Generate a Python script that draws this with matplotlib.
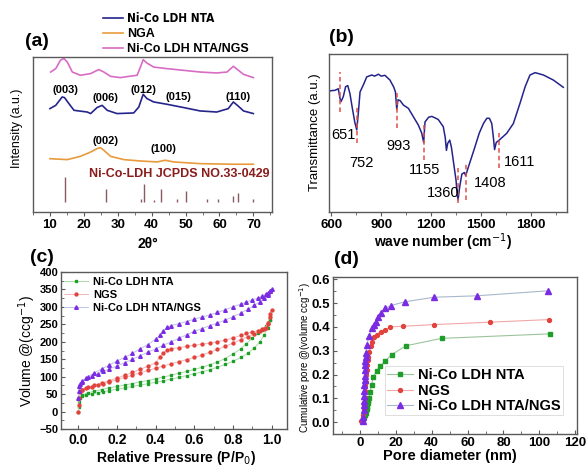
import matplotlib
matplotlib.use("Agg")
import matplotlib.pyplot as plt
from matplotlib.ticker import MultipleLocator, AutoMinorLocator, FormatStrFormatter

plt.rcParams['font.family'] = ['Liberation Sans', 'DejaVu Sans']

# ---------------- data: (a) XRD ----------------
xrd_pink_x = [10.2, 11.7, 13.1, 14.1, 15.1, 16.6, 19.0, 22.0, 24.4, 25.9, 27.9, 30.8, 33.2, 35.7,
              36.7, 37.5, 38.6, 40.6, 44.5, 49.4, 54.3, 59.2, 62.2, 64.1, 65.3, 67.1, 70.0]
xrd_pink_y = [90.3, 92.5, 97.9, 99.0, 96.8, 90.3, 88.2, 89.3, 91.9, 90.3, 87.5, 86.7, 87.5, 88.2,
              93.5, 98.3, 96.1, 93.5, 92.5, 91.4, 90.3, 89.7, 90.3, 94.0, 91.9, 88.8, 86.7]
xrd_blue_x = [10.0, 11.7, 13.6, 14.3, 15.6, 17.1, 21.0, 22.0, 23.9, 25.4, 26.9, 29.8, 34.7, 36.2,
              37.5, 38.6, 40.6, 44.5, 49.4, 54.3, 59.2, 62.6, 64.1, 65.3, 67.1, 70.0]
xrd_blue_y = [66.7, 68.8, 74.2, 73.8, 69.9, 65.6, 64.5, 63.5, 67.4, 68.8, 65.6, 63.5, 63.9, 67.7,
              75.9, 73.2, 71.0, 69.5, 67.4, 65.2, 64.5, 66.7, 71.0, 68.8, 65.2, 63.5]
xrd_orange_x = [10.0, 15.1, 19.0, 22.0, 23.9, 24.9, 25.9, 27.9, 31.8, 36.7, 41.6, 44.0, 46.5,
                54.3, 64.1, 70.0]
xrd_orange_y = [34.4, 33.8, 35.9, 38.7, 40.9, 41.5, 39.8, 35.9, 33.8, 32.9, 32.3, 33.4, 32.3,
                31.2, 30.8, 30.8]
jcpds_pos = [14.3, 26.4, 37.0, 37.8, 40.7, 42.8, 47.5, 50.0, 56.4, 59.7, 64.0, 65.6, 69.8]
jcpds_top = [22.6, 15.1, 8.5, 18.3, 7.8, 15.1, 8.5, 13.5, 8.5, 8.5, 10.6, 12.3, 8.3]
jcpds_base = 6.5
xrd_peak_labels = ['(003)', '(006)', '(012)', '(015)', '(110)', '(002)', '(100)']
xrd_peak_x = [14.6, 26.4, 37.7, 48.0, 65.6, 26.4, 43.6]
xrd_peak_y = [79.0, 73.8, 79.0, 74.2, 74.2, 45.6, 40.9]

# ---------------- data: (b) FTIR ----------------
ftir_w = [585, 600, 621, 641, 651, 657, 671, 685, 698, 711, 725, 740, 752, 761, 772, 792, 812,
          842, 860, 882, 900, 922, 952, 975, 985, 993, 1000, 1013, 1033, 1063, 1093, 1123, 1143,
          1155, 1163, 1185, 1204, 1225, 1243, 1273, 1285, 1292, 1300, 1312, 1322, 1338, 1350,
          1356, 1362, 1372, 1385, 1400, 1408, 1425, 1460, 1490, 1515, 1535, 1551, 1565, 1575,
          1582, 1592, 1611, 1655, 1695, 1735, 1766, 1795, 1826, 1876, 1936, 1996]
ftir_t = [76.5, 76.8, 77.0, 78.0, 72.0, 69.8, 73.0, 79.3, 80.0, 75.0, 66.0, 57.0, 52.0, 62.0,
          76.0, 80.5, 85.5, 86.7, 86.0, 87.2, 86.0, 86.5, 83.5, 79.0, 76.0, 65.0, 71.0, 70.5,
          67.7, 65.6, 60.3, 55.0, 50.0, 44.0, 57.0, 60.0, 60.5, 59.5, 58.5, 54.0, 47.0, 39.0,
          43.5, 45.5, 41.0, 29.0, 20.0, 12.0, 7.6, 16.0, 24.0, 25.0, 23.0, 28.7, 40.0, 50.0,
          56.0, 59.3, 59.3, 56.0, 47.0, 39.5, 44.0, 45.6, 49.8, 56.0, 68.8, 79.3, 86.7, 88.2,
          86.7, 83.5, 78.9]
ftir_marks = [651, 752, 993, 1155, 1360, 1408, 1611]
ftir_mark_lo = [63.3, 43.7, 53.2, 32.9, 5.7, 7.6, 27.8]
ftir_mark_hi = [88.6, 66.5, 75.3, 55.0, 27.8, 31.0, 50.0]
ftir_label_x = [672, 782, 1002, 1163, 1273, 1555, 1735]
ftir_label_y = [48.7, 30.8, 41.8, 26.6, 11.8, 18.2, 31.8]

# ---------------- data: (c) N2 isotherms ----------------
ads_p = [0.0, 0.002, 0.005, 0.01, 0.02, 0.04, 0.07, 0.1, 0.13, 0.16, 0.2, 0.24, 0.28, 0.32,
         0.36, 0.4, 0.44, 0.48, 0.52, 0.56, 0.6, 0.64, 0.68, 0.72, 0.76, 0.8, 0.84, 0.88, 0.91,
         0.94, 0.96, 0.98, 0.99]
nta_ads = [0, 12, 28, 40, 45, 48, 51, 54, 57, 60, 64, 68, 72, 76, 80, 84, 88, 93, 98, 103, 108,
           114, 120, 127, 135, 144, 155, 168, 182, 200, 218, 240, 262]
ngs_ads = [0, 20, 40, 55, 62, 67, 71, 76, 80, 85, 91, 98, 104, 111, 118, 124, 131, 137, 143, 149,
           155, 162, 170, 178, 187, 196, 206, 215, 222, 230, 236, 250, 280]
mix_ads = [40, 60, 72, 80, 88, 95, 101, 108, 115, 122, 131, 140, 150, 160, 170, 180, 190, 200,
           210, 220, 230, 238, 246, 254, 262, 272, 282, 294, 304, 315, 325, 335, 345]
nta_des_p = [0.99, 0.97, 0.95, 0.93, 0.9, 0.87, 0.84, 0.8, 0.76, 0.72, 0.68, 0.64, 0.6, 0.56,
             0.52, 0.48, 0.44, 0.4, 0.36, 0.32, 0.28, 0.24, 0.2, 0.16, 0.12, 0.08, 0.05, 0.02]
nta_des = [262, 245, 235, 225, 210, 195, 180, 165, 152, 142, 134, 127, 121, 115, 110, 104, 99,
           94, 89, 85, 80, 76, 72, 68, 63, 58, 54, 48]
des_p = [1.0, 0.99, 0.98, 0.97, 0.95, 0.93, 0.9, 0.87, 0.84, 0.8, 0.76, 0.72, 0.68, 0.64, 0.6,
         0.56, 0.52, 0.48, 0.46, 0.44, 0.42, 0.4, 0.36, 0.32, 0.28, 0.24, 0.2, 0.16, 0.12, 0.08,
         0.05, 0.02]
ngs_des = [290, 270, 255, 240, 236, 232, 228, 224, 218, 211, 205, 200, 196, 193, 190, 187, 183,
           180, 176, 168, 155, 140, 130, 121, 112, 104, 96, 89, 82, 75, 70, 63]
mix_des = [350, 345, 340, 336, 330, 325, 320, 314, 308, 300, 292, 284, 277, 271, 265, 258, 252,
           246, 242, 232, 218, 208, 192, 180, 167, 155, 145, 133, 122, 110, 100, 85]

# ---------------- data: (d) pore volume ----------------
nta_d = [1.8, 2.5, 3.0, 3.5, 3.8, 4.0, 4.3, 4.6, 5.2, 5.6, 6.5, 7.4, 9.3, 11.2, 14.0, 17.7,
         25.7, 45.6, 105.8]
nta_v = [0.012, 0.02, 0.03, 0.04, 0.055, 0.065, 0.079, 0.09, 0.10, 0.125, 0.155, 0.19, 0.214,
         0.235, 0.256, 0.284, 0.321, 0.352, 0.371]
ngs_d = [0.5, 1.5, 2.0, 2.3, 2.6, 2.8, 3.0, 3.2, 3.5, 3.8, 4.0, 4.3, 4.7, 5.2, 6.0, 6.5, 8.0,
         9.3, 11.6, 14.0, 16.8, 24.2, 41.5, 72.3, 105.2]
ngs_v = [0.005, 0.03, 0.05, 0.07, 0.10, 0.13, 0.15, 0.17, 0.20, 0.22, 0.242, 0.26, 0.275, 0.295,
         0.319, 0.337, 0.358, 0.368, 0.38, 0.387, 0.40, 0.403, 0.41, 0.42, 0.431]
mix_d = [1.5, 1.8, 2.0, 2.1, 2.2, 2.3, 2.4, 2.5, 2.6, 2.7, 2.8, 2.9, 3.0, 3.2, 3.5, 3.7, 5.2,
         6.5, 7.8, 8.9, 10.3, 11.6, 14.0, 17.3, 25.1, 41.5, 65.2, 105.0]
mix_v = [0.005, 0.02, 0.05, 0.07, 0.09, 0.11, 0.13, 0.155, 0.175, 0.195, 0.22, 0.24, 0.255,
         0.275, 0.29, 0.323, 0.361, 0.396, 0.407, 0.421, 0.441, 0.457, 0.478, 0.49, 0.506, 0.525,
         0.531, 0.552]

series_names = ['Ni-Co LDH NTA', 'NGS', 'Ni-Co LDH NTA/NGS']

W, H = 588, 466


def box(l, t, r, b):
    return [l / W, 1 - b / H, (r - l) / W, (b - t) / H]


def fp(x, y):
    return (x / W, 1 - y / H)


def style_axes(ax, size, direction='out', pad=2):
    for s in ax.spines.values():
        s.set_color('#5a5a5a')
        s.set_linewidth(1.0)
    ax.tick_params(direction=direction, length=3, width=0.8, color='#5a5a5a', labelsize=size,
                   pad=pad)
    ax.tick_params(which='minor', direction=direction, length=2, width=0.6, color='#5a5a5a')
    for lab in ax.get_xticklabels() + ax.get_yticklabels():
        lab.set_fontweight('bold')


fig = plt.figure(figsize=(W / 100, H / 100), dpi=100)

navy = '#24248c'
orange = '#e89a3c'
pink = '#d86cc4'
green = '#1e9e28'
red = '#e2423c'
purple = '#7b2be2'

# ---------------- (a) ----------------
axa = fig.add_axes(box(33, 57, 272, 212))
ln_b, = axa.plot(xrd_blue_x, xrd_blue_y, color=navy, lw=1.2)
ln_o, = axa.plot(xrd_orange_x, xrd_orange_y, color=orange, lw=1.2)
ln_p, = axa.plot(xrd_pink_x, xrd_pink_y, color=pink, lw=1.2)
axa.vlines(jcpds_pos, jcpds_base, jcpds_top, colors='#8a5a63', lw=1.0)
for lab, x, y in zip(xrd_peak_labels, xrd_peak_x, xrd_peak_y):
    axa.text(x, y, lab, ha='center', va='center', fontsize=8, fontweight='bold')
axa.text(21.5, 24.8, 'Ni-Co-LDH JCPDS NO.33-0429', ha='left', va='center', fontsize=9,
         fontweight='bold', color='#8b1c1c')
axa.set_xlim(5, 75.5)
axa.set_ylim(0, 100)
axa.set_yticks([])
axa.xaxis.set_major_locator(MultipleLocator(10))
axa.xaxis.set_minor_locator(AutoMinorLocator(2))
style_axes(axa, 9.5)
leg_a = fig.legend([ln_b, ln_o, ln_p], ['Ni-Co LDH NTA', 'NGA', 'Ni-Co LDH NTA/NGS'],
                   loc='upper left', bbox_to_anchor=fp(103, 12), frameon=False,
                   handlelength=1.6, handletextpad=0.3, labelspacing=0.25, borderpad=0,
                   borderaxespad=0, prop={'weight': 'bold', 'size': 9})
first = leg_a.get_texts()[0]
first.set_family(['Liberation Sans Narrow', 'DejaVu Sans'])
first.set_stretch('condensed')
first.set_fontsize(8.5)
fig.text(*fp(37, 41), '(a)', ha='center', va='center', fontsize=14, fontweight='bold')
fig.text(*fp(17, 128), 'Intensity (a.u.)', ha='center', va='center', rotation=90, fontsize=9)
fig.text(*fp(148, 244), '2θ°', ha='center', va='center', fontsize=10, fontweight='bold')

# ---------------- (b) ----------------
axb = fig.add_axes(box(329, 54, 567, 212))
axb.plot(ftir_w, ftir_t, color=navy, lw=1.1)
axb.vlines(ftir_marks, ftir_mark_lo, ftir_mark_hi, colors='#e0504a', linestyles=(0, (3, 2)),
           lw=1.1)
for m, x, y in zip(ftir_marks, ftir_label_x, ftir_label_y):
    axb.text(x, y, str(m), ha='center', va='center', fontsize=10.5)
axb.set_xlim(585, 2018)
axb.set_ylim(0, 100)
axb.set_yticks([])
axb.set_xticks([600, 900, 1200, 1500, 1800])
axb.xaxis.set_minor_locator(AutoMinorLocator(2))
style_axes(axb, 9.5)
fig.text(*fp(341, 37), '(b)', ha='center', va='center', fontsize=14, fontweight='bold')
fig.text(*fp(315, 132), 'Transmittance (a.u.)', ha='center', va='center', rotation=90,
         fontsize=9.5)
fig.text(*fp(443, 242), 'wave number (cm$^{-1}$)', ha='center', va='center', fontsize=10,
         fontweight='bold')

# ---------------- (c) ----------------
axc = fig.add_axes(box(61, 272, 287, 429))
iso = [(ads_p, nta_ads, nta_des_p, nta_des, green, '#a8dca8', 's', 1.9),
       (ads_p, ngs_ads, des_p, ngs_des, red, '#f4b8b8', 'o', 2.1),
       (ads_p, mix_ads, des_p, mix_des, purple, '#bcc4ec', '^', 2.6)]
hc = []
for pa, va, pd, vd, c, lc, mk, ms in iso:
    h, = axc.plot(list(pa) + list(pd), list(va) + list(vd), '-', color=lc, lw=0.7, marker=mk,
                  ms=ms, mfc=c, mec=c)
    hc.append(h)
axc.set_xlim(-0.09, 1.08)
axc.set_ylim(-50, 400)
axc.xaxis.set_major_locator(MultipleLocator(0.2))
axc.xaxis.set_minor_locator(AutoMinorLocator(2))
axc.yaxis.set_major_locator(MultipleLocator(50))
axc.yaxis.set_minor_locator(AutoMinorLocator(2))
axc.xaxis.set_major_formatter(FormatStrFormatter('%.1f'))
style_axes(axc, 8, direction='in', pad=2)
axc.tick_params(axis='x', labelsize=10, pad=3)
axc.legend(hc, series_names, loc='upper left', bbox_to_anchor=fp(64, 277),
           bbox_transform=fig.transFigure, frameon=False, handlelength=2.2, handletextpad=0.4,
           labelspacing=0.25, borderpad=0, borderaxespad=0, prop={'weight': 'bold', 'size': 8})
fig.text(*fp(42, 257), '(c)', ha='center', va='center', fontsize=14, fontweight='bold')
fig.text(*fp(27, 351), 'Volume @(ccg$^{-1}$)', ha='center', va='center', rotation=90,
         fontsize=10)
fig.text(*fp(176, 458), 'Relative Pressure (P/P$_0$)', ha='center', va='center', fontsize=10,
         fontweight='bold')

# ---------------- (d) ----------------
axd = fig.add_axes(box(333, 277, 577, 434))
pv = [(nta_d, nta_v, green, '#9cc49c', 's', 3.0),
      (ngs_d, ngs_v, red, '#f0a8a8', 'o', 2.8),
      (mix_d, mix_v, purple, '#a8b8cc', '^', 4.0)]
hd = []
for d, v, c, lc, mk, ms in pv:
    h, = axd.plot(d, v, '-', color=lc, lw=0.8, marker=mk, ms=ms, mfc=c, mec=c)
    hd.append(h)
axd.set_xlim(-15, 121)
axd.set_ylim(-0.05, 0.61)
axd.xaxis.set_major_locator(MultipleLocator(20))
axd.xaxis.set_minor_locator(AutoMinorLocator(2))
axd.yaxis.set_major_locator(MultipleLocator(0.1))
axd.yaxis.set_minor_locator(AutoMinorLocator(2))
axd.yaxis.set_major_formatter(FormatStrFormatter('%.1f'))
style_axes(axd, 9.5, direction='in', pad=2)
leg_d = axd.legend(hd, series_names, loc='upper left', bbox_to_anchor=fp(385, 366),
                   bbox_transform=fig.transFigure, frameon=True, fancybox=False,
                   handlelength=1.8, handletextpad=0.3, labelspacing=0.1, borderpad=0.15,
                   borderaxespad=0, prop={'weight': 'bold', 'size': 10.5})
leg_d.get_frame().set_edgecolor('#d0d0d0')
leg_d.get_frame().set_linewidth(0.6)
fig.text(*fp(346, 259), '(d)', ha='center', va='center', fontsize=14, fontweight='bold')
fig.text(*fp(305, 357), 'Cumulative pore @(volume ccg$^{-1}$)', ha='center', va='center',
         rotation=90, fontsize=7)
fig.text(*fp(450, 456), 'Pore diameter (nm)', ha='center', va='center', fontsize=10.5,
         fontweight='bold')

fig.savefig('out.png', dpi=100)
